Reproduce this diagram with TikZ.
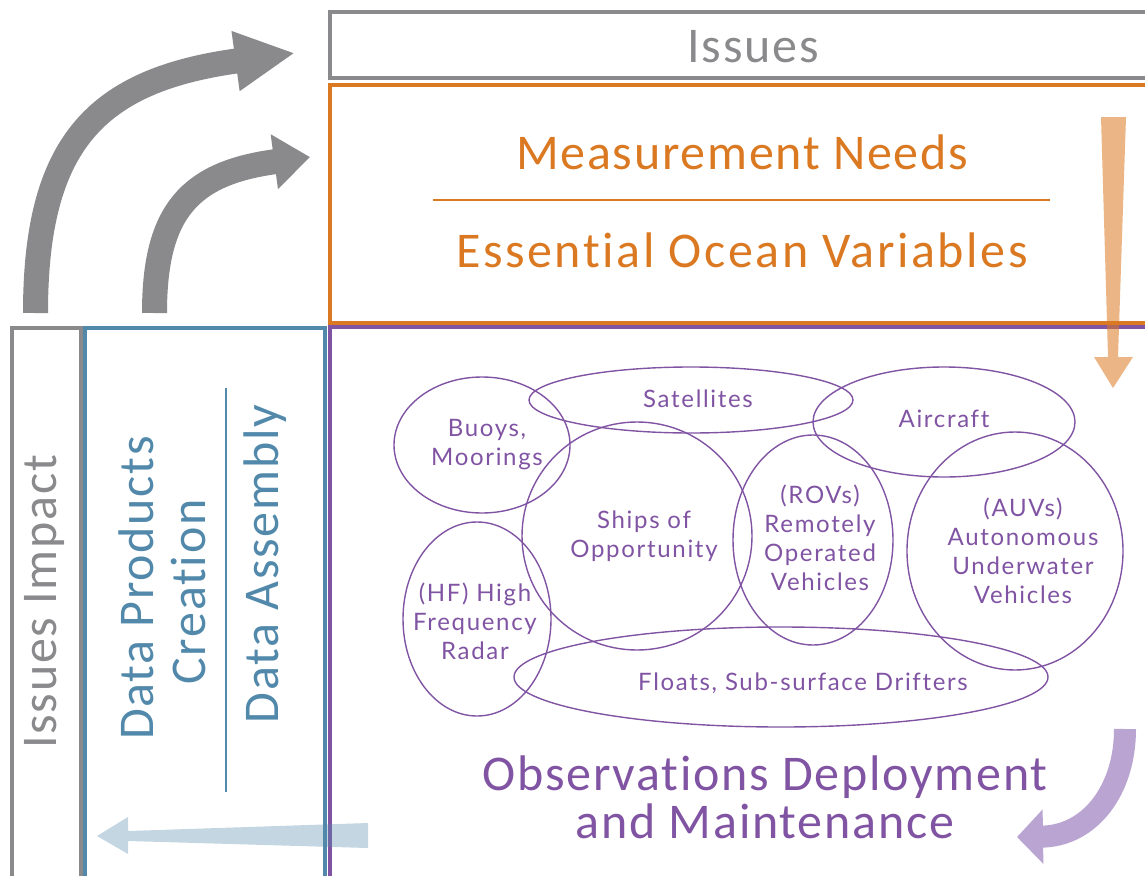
\documentclass[tikz,border=0pt]{standalone}
\usepackage{fontspec}
\setmainfont{Carlito}
\newfontfamily\headfont{Carlito}[LetterSpace=3.5, Ligatures=NoCommon]
\newfontfamily\instfont{Lato}[LetterSpace=7, Ligatures=NoCommon]
\usetikzlibrary{arrows.meta}

\definecolor{issgray}{RGB}{138,138,141}
\definecolor{needorange}{RGB}{218,121,33}
\definecolor{obspurple}{RGB}{128,84,163}
\definecolor{datablue}{RGB}{82,137,171}
\definecolor{cyclepurple}{RGB}{185,164,210}

\newcommand\tightlines{\lineskiplimit=-40pt\relax}

\begin{document}
\begin{tikzpicture}[x=1pt, y=-1pt,
    frame/.style={draw, line width=4pt, inner sep=0pt},
    title/.style={font=\headfont\fontsize{50}{56}\selectfont, anchor=base},
    inst/.style={font=\instfont\fontsize{24}{29}\selectfont, text=obspurple, align=center},
    ring/.style={draw=obspurple, line width=1.4pt},
    curl/.style={issgray, line width=25pt},
]
\clip (0,0) rectangle (1145,875);

% --- panels ---
\node[frame, draw=issgray, minimum width=870pt, minimum height=66pt] (issues) at (765,45) {};
\node[frame, draw=needorange, minimum width=870pt, minimum height=238pt] (needs) at (765,204) {};
\node[frame, draw=obspurple, minimum width=870pt, minimum height=573pt] (obs) at (765,613.5) {};
\node[frame, draw=issgray, minimum width=68.5pt, minimum height=572pt] (impact) at (46.25,614) {};
\node[frame, draw=datablue, minimum width=240pt, minimum height=572pt] (data) at (205,614) {};

% --- panel titles ---
\node[title, text=issgray] (issuestxt) at (753,63) {Issues};
\node[title, text=needorange] (needstxt) at (742,169) {Measurement Needs};
\draw[needorange, line width=2pt] (433,200) -- (1050,200);
\node[title, text=needorange] (eovtxt) at (742,267) {\addfontfeature{LetterSpace=5.2}Essential Ocean Variables};
\node[title, text=obspurple, align=center, anchor=center,
      font=\headfont\fontsize{50}{48}\selectfont\tightlines] (obstxt) at (765,797)
  {Observations Deployment\\and Maintenance};
\node[title, text=issgray, rotate=90] (impacttxt) at (56,602) {Issues Impact};
\node[title, text=datablue, rotate=90] (prodtxt) at (153,588) {Data Products};
\node[title, text=datablue, rotate=90] (creattxt) at (205,592) {Creation};
\draw[datablue, line width=2pt] (226,388) -- (226,792);
\node[title, text=datablue, rotate=90] (assemtxt) at (278,564) {Data Assembly};

% --- observing platforms ---
\foreach \cx/\cy/\rx/\ry in {482/445/88/68, 691/400/162/33, 944/422/131/55, 637/536/115/114,
    813/540/80/105, 1015/551/108/119, 477/619/74/97, 781/677/267/50}
  \draw[ring] (\cx,\cy) ellipse [x radius=\rx pt, y radius=\ry pt];

\node[inst, anchor=base] (sat) at (698,407) {Satellites};
\node[inst, anchor=base] (air) at (944,427) {Aircraft};
\node[inst] (buoy) at (487,445) {Buoys,\\Moorings};
\node[inst] (ship) at (644,536) {Ships of\\Opportunity};
\node[inst] (hf) at (475,621) {(HF) High\\Frequency\\Radar};
\node[inst] (rov) at (820,538) {(ROVs)\\Remotely\\Operated\\Vehicles};
\node[inst] (auv) at (1023,551) {(AUVs)\\Autonomous\\Underwater\\Vehicles};
\node[inst, anchor=base] (float) at (803,690) {Floats, Sub-surface Drifters};

% --- feedback arrows ---
\coordinate (bigfrom) at (35.5,313);
\coordinate (bigto) at (295,53);
\coordinate (smallfrom) at (154.5,313);
\coordinate (smallto) at (310,157);
\draw[curl, -{Triangle[length=60pt,width=56pt]}] (bigfrom) .. controls (35.5,143) and (96,80) .. (bigto);
\draw[curl, -{Triangle[length=36pt,width=53pt]}] (smallfrom) .. controls (154.5,211) and (190,173) .. (smallto);

% needs feed the observations
\fill[needorange, fill opacity=0.55] (1101,117) -- (1108,357) -- (1094,357) -- (1113,388)
  -- (1133,357) -- (1118,357) -- (1126,117) -- cycle;

% observations round to the data panel
\coordinate (cyclefrom) at (1125,729);
\coordinate (cycleto) at (1017,837);
\draw[cyclepurple, line width=22pt, -{Triangle[length=26pt,width=53pt]}] (cyclefrom)
  .. controls (1125,790) and (1090,836) .. (cycleto);

% data assembled from the observations
\fill[datablue, fill opacity=0.35] (368,823) -- (128,831) -- (128,817) -- (97,836)
  -- (128,854) -- (128,841) -- (368,848) -- cycle;
\end{tikzpicture}
\end{document}
